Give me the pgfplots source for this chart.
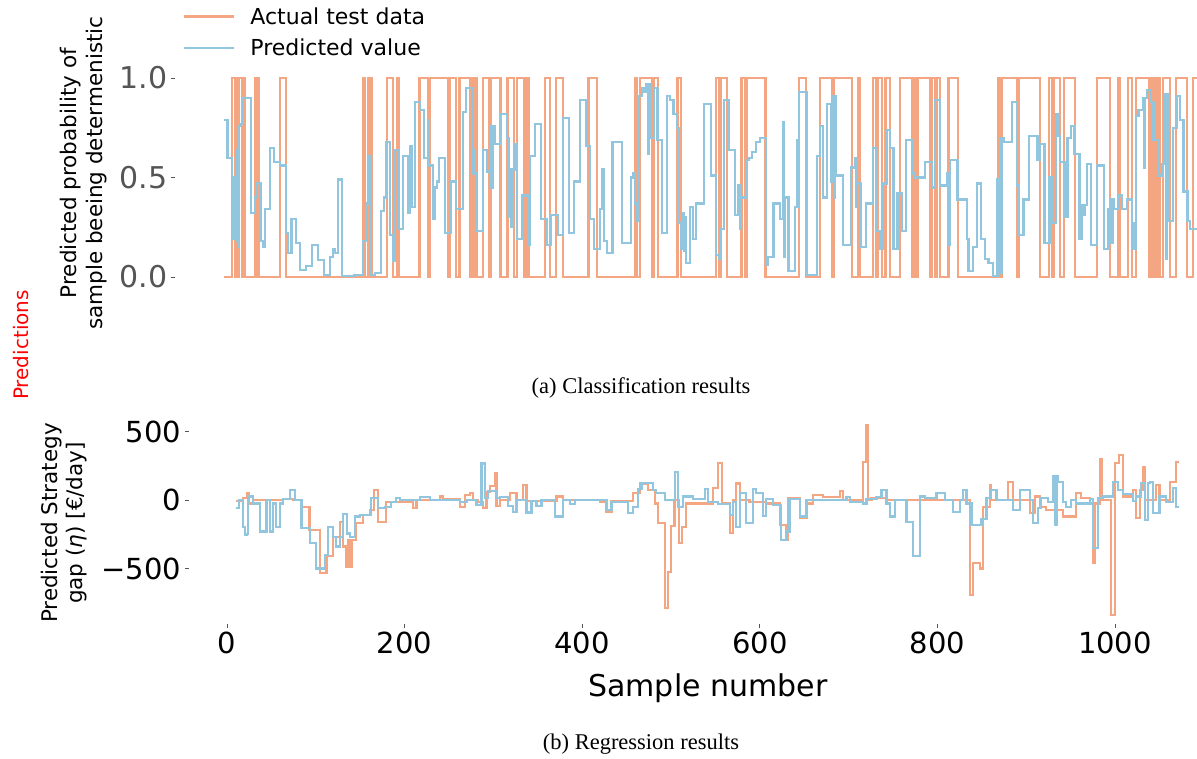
\documentclass[border=0pt]{standalone}
\usepackage{fontspec}
\setmainfont{DejaVu Sans}
\newfontfamily\capfont{Liberation Serif}
\usepackage{pgfplots}
\pgfplotsset{compat=1.18}
\definecolor{actual}{HTML}{F4A582}
\definecolor{pred}{HTML}{92C5DE}
\definecolor{ticklab}{HTML}{555555}

\begin{document}
\begin{tikzpicture}
\useasboundingbox (0pt,0pt) rectangle (1197pt,759pt);
\clip (0pt,0pt) rectangle (1197pt,759pt);

% (a) classification
\begin{axis}[
  at={(175.1pt,472pt)}, anchor=south west, scale only axis,
  width=1069.5pt, height=218.9pt,
  xmin=-55, xmax=1148, ymin=-0.05, ymax=1.05,
  axis line style={draw=none},
  xtick=\empty,
  ytick={0,0.5,1}, yticklabels={0.0,0.5,1.0},
  ytick pos=left, tick align=outside, major tick length=4pt,
  tick style={ticklab, line width=0.8pt},
  yticklabel style={font=\fontsize{30}{36}\selectfont, text=ticklab},
  ylabel={Predicted probability of\\sample beeing determenistic},
  ylabel style={font=\fontsize{21.5}{26}\selectfont, align=center,
    at={(axis description cs:-0.0635,0.52)}, anchor=south, inner sep=0pt},
  legend style={draw=none, fill=none, font=\fontsize{22}{26}\selectfont,
    at={(axis description cs:0.0074,1)}, anchor=south west, yshift=9pt,
    inner sep=0pt, row sep=9pt,
    nodes={inner xsep=0pt, inner ysep=2pt},
    /tikz/every odd column/.append style={column sep=15pt}},
  legend cell align=left,
  legend image code/.code={\draw[#1, line width=2.2pt] (0pt,0pt) -- (50pt,0pt);},
]
\addplot[actual, line width=2.2pt, const plot] coordinates {
(0,0) (9,1) (12,0) (13,1) (15,0) (17,1) (20,0) (21,1) (23,0) (35,1) (36,0) (37,1) (39,0)
(63,1) (70,0) (156,1) (159,0) (162,1) (163,0) (164,1) (166,0) (183,1) (190,0) (195,1) (197,0)
(220,1) (230,0) (232,1) (252,0) (254,1) (261,0) (265,1) (277,0) (279,1) (281,0) (282,1) (284,0)
(291,1) (298,0) (300,1) (311,0) (319,1) (326,0) (330,1) (337,0) (340,1) (341,0) (342,1) (343,0)
(361,1) (367,0) (373,1) (381,0) (410,1) (420,0) (462,1) (465,0) (468,1) (481,0) (484,1) (488,0)
(510,1) (514,0) (553,1) (557,0) (559,1) (566,0) (582,1) (586,0) (588,1) (609,0) (647,1) (655,0)
(670,1) (684,0) (686,1) (706,0) (713,1) (715,0) (730,1) (734,0) (736,1) (740,0) (744,1) (749,0)
(760,1) (774,0) (775,1) (777,0) (780,1) (794,0) (796,1) (800,0) (802,1) (805,0) (815,1) (826,0)
(871,1) (872,0) (873,1) (874,0) (875,1) (892,0) (894,1) (918,0) (928,1) (931,0) (934,1) (940,0)
(945,1) (957,0) (982,1) (997,0) (1006,1) (1008,0) (1017,1) (1021,0) (1026,1) (1041,0) (1042,1)
(1043,0) (1044,1) (1045,0) (1046,1) (1047,0) (1050,1) (1053,0) (1056,1) (1064,0) (1071,1) (1083,0)
(1090,1) (1094,1)
};
\addlegendentry{Actual test data}
\addplot[pred, line width=2.2pt, const plot] coordinates {
(0,0.79) (4,0.60) (8.6,0.19) (11,0.50) (13.5,0.64) (14.5,0.18) (15.4,0.15) (17,0.76) (19,0.77)
(21.7,0.90) (30,0.32) (35,0.40) (37.5,0.47) (42,0.18) (44,0.15) (46.5,0.34) (51.7,0.65) (56.2,0.58)
(63,0.56) (69.7,0.22) (72.4,0.12) (76,0.29) (80.6,0.17) (85.5,0.035) (91.9,0.055) (99.4,0.16)
(105.4,0.085) (112.9,0.01) (119.2,0.10) (123,0.14) (124.9,0.12) (128.6,0.49) (133,0.007) (146,0.01)
(156,0.18) (160.5,0.37) (162.4,0.61) (165,0.01) (169.9,0.02) (176.2,0.33) (180,0.40) (182.2,0.68)
(186.7,0.21) (189.7,0.08) (192.4,0.64) (196.9,0.24) (201.4,0.61) (206.6,0.32) (209,0.66) (211.9,0.35)
(214.9,0.88) (220.5,0.84) (225,0.60) (229.9,0.79) (231,0.56) (235,0.29) (237.4,0.45) (240,0.48)
(242.2,0.60) (248.6,0.22) (255.4,0.48) (261,0.34) (269.2,0.83) (271.9,0.95) (278.6,0.52) (280,0.64)
(281.5,0.52) (284.2,0.23) (291,0.64) (296.2,0.53) (299,0.76) (300.5,0.45) (302,0.76) (304.9,0.67)
(311.2,0.82) (318,0.70) (320,0.30) (321.7,0.54) (323.5,0.25) (325,0.54) (327.4,0.67) (330,0.19)
(334.9,0.41) (342.4,0.16) (344.2,0.61) (349.9,0.77) (356.2,0.29) (363,0.16) (367.5,0.31) (376.1,0.21)
(381,0.80) (388.5,0.22) (393.7,0.48) (400.5,0.89) (407.2,0.66) (411.7,0.29) (416.2,0.14) (423,0.34)
(425,0.54) (427.5,0.18) (430.5,0.12) (437,0.68) (447.4,0.17) (457.5,0.50) (460.5,0.52) (462,0.37)
(463.5,0.28) (467.2,0.91) (470,0.95) (472.5,0.93) (475,0.97) (476.5,0.62) (477.5,0.97) (479,0.70)
(484,0.95) (487.5,0.69) (492.4,0.22) (498.7,0.91) (501.7,0.89) (505.5,0.82) (509.2,0.75) (512.2,0.27)
(514,0.14) (515.5,0.32) (517,0.13) (518.5,0.30) (519.7,0.07) (524.2,0.35) (527.2,0.19) (531,0.37)
(540,0.87) (547.9,0.51) (553.1,0.11) (556.9,0.09) (558,0.24) (562.5,0.89) (567.4,0.64) (574.9,0.31)
(578.6,0.46) (580,0.24) (581.2,0.40) (586.9,0.59) (589.9,0.60) (593.6,0.63) (598.5,0.68) (603,0.70)
(609.4,0.06) (611.6,0.10) (618,0.37) (625.5,0.29) (628.5,0.78) (630,0.10) (631.1,0.40) (634.9,0.03)
(642.4,0.35) (645,0.69) (647.2,0.93) (655.5,0.01) (666.7,0.61) (670.5,0.76) (674.2,0.40) (678,0.87)
(682.9,0.48) (685,0.91) (686.5,0.40) (687.5,0.91) (688.5,0.51) (696.7,0.16) (705,0.55) (709.9,0.60)
(711,0.35) (711.7,0.47) (716.2,0.15) (722.2,0.37) (729.7,0.65) (734.2,0.23) (738,0.14) (741.7,0.47)
(746.2,0.74) (749.2,0.65) (753,0.14) (757.5,0.42) (762.4,0.23) (766.9,0.69) (773.6,0.52) (777.4,0.50)
(788.6,0.58) (796.1,0.45) (799.9,0.89) (805.5,0.46) (813,0.52) (814.5,0.16) (816.7,0.59) (825,0.39)
(835.5,0.19) (837.4,0.03) (842.2,0.15) (846.7,0.47) (851.2,0.19) (856.1,0.09) (859.9,0.07) (864.7,0.005)
(870,0.49) (871,0.07) (872,0.49) (873,0.70) (874,0.02) (875,0.70) (876.7,0.68) (886,0.88) (891.7,0.46)
(894.4,0.21) (899.2,0.39) (905.6,0.71) (915,0.59) (918,0.67) (922.9,0.17) (928.5,0.50) (931.1,0.27)
(935.6,0.82) (938,0.71) (940.5,0.58) (946.1,0.30) (948.7,0.70) (952.5,0.76) (956.2,0.62) (962.2,0.19)
(964.9,0.36) (967,0.31) (968.5,0.36) (970.5,0.57) (975,0.16) (981.7,0.56) (990,0.14) (994.9,0.34)
(996.7,0.39) (998,0.17) (999.5,0.39) (1001.2,0.34) (1006.1,0.41) (1009.9,0.34) (1015.5,0.39)
(1021.1,0.27) (1023,0.14) (1026,0.81) (1028.6,0.84) (1033.5,0.90) (1034.5,0.55) (1035.5,0.90)
(1038,0.94) (1041.7,0.88) (1045.5,0.69) (1051.1,0.51) (1054.9,0.57) (1058.6,0.92) (1060,0.09)
(1061,0.92) (1062.4,0.28) (1067.2,0.75) (1071.7,0.91) (1075.5,0.79) (1079.2,0.43) (1083.7,0.28)
(1086.7,0.24) (1094,0.24)
};
\addlegendentry{Predicted value}
\end{axis}

% (b) regression
\begin{axis}[
  at={(188.8pt,134.5pt)}, anchor=south west, scale only axis,
  width=1038.1pt, height=208.9pt,
  xmin=-43, xmax=1126, ymin=-909, ymax=616,
  axis line style={draw=none},
  xtick={0,200,400,600,800,1000}, xticklabels={0,200,400,600,800,1000},
  ytick={-500,0,500}, yticklabels={−500,0,500},
  tick pos=left, tick align=outside, major tick length=4pt,
  tick style={ticklab, line width=0.8pt},
  ticklabel style={font=\fontsize{29}{35}\selectfont},
  xlabel={Sample number},
  xlabel style={font=\fontsize{30}{36}\selectfont,
    at={(axis description cs:0.5,-0.347)}, anchor=base, inner sep=0pt},
  ylabel={Predicted Strategy\\gap (\textit{η}) [€/day]},
  ylabel style={font=\fontsize{21.5}{25}\selectfont, align=center,
    at={(axis description cs:-0.0975,0.486)}, anchor=south, inner sep=0pt},
]
\addplot[actual, line width=2.2pt, const plot] coordinates {
(10,-5) (18,12) (23,50) (24.5,-25) (29.4,0) (63,5) (74.4,0) (83.8,-50) (93,-220) (104.4,-535)
(112,-410) (119.4,-270) (127,-160) (130.6,-340) (134.5,-490) (136.3,-290) (138,-490) (141,-290)
(145.6,-170) (153,-110) (160.6,-75) (166,73) (170,-160) (179.4,-12)
(209.8,-60) (213.5,0) (239.8,25) (243.5,5) (262.3,-50) (268,36) (273.5,50) (277.3,0) (282.9,-12)
(288.5,-60) (292.3,60) (296,100) (301.7,195) (303.5,-44) (307.3,0) (318.5,50) (326,0) (333.5,110)
(337.3,-5) (371,25) (378.5,0) (419.8,-12) (427.3,-85) (433,-5) (457.3,50) (464.8,120) (474,73)
(481.7,-25) (485.4,-170) (492.9,-790) (496.7,-523) (500.4,-190) (504,0) (509,-316) (512.8,-195)
(517.3,-25) (547.3,85) (553,272) (557.8,-25) (566,-243) (569.8,0) (573.5,120) (577.3,0) (588.5,-12)
(607.3,-25) (622.3,-180) (629.8,-290) (631.7,12)
(645.2,-134) (652.7,-25) (660.2,36) (671.5,20) (690.2,68) (694,0) (716.5,280) (719.5,547) (722.1,0)
(725.8,12) (742.7,0) (836.5,-693) (840.2,-462) (847.7,-500) (851.5,-50) (859,110) (860.8,0)
(879.6,134) (885.2,0) (904,-97) (909.6,25) (915.2,-50) (922.7,-73) (941.5,-120) (956.5,50) (962.1,12)
(971.5,-25) (975.2,-462) (977,-25) (982.7,297) (985.7,0) (995.8,-840) (999.6,268) (1004.4,328)
(1009,25) (1020.2,73) (1024,-134) (1027.7,73) (1031.5,243) (1033.4,0) (1046.5,110) (1050.2,0)
(1061.5,134) (1069,275) (1072,275)
};
\addplot[pred, line width=2.2pt, const plot] coordinates {
(10,-60) (13.6,0) (18.2,-195) (20,-255) (21.9,-250) (23.8,25) (29.4,-25) (36.9,-230) (44.4,0)
(48.1,-230) (51.9,-25) (55.6,-195) (59.4,-25) (63.1,5) (70.6,73) (76.3,0) (83.8,-205) (93.1,-315)
(100.6,-500) (110,-400) (113.8,-195) (119.4,-270) (123.1,-340) (126.9,-270) (130.6,-100) (135,-245)
(138.1,-270) (143.8,-120) (149.4,-110) (162.5,12) (170,-60) (177.5,-50) (185,-12) (190,12)
(194.8,0) (217.3,20) (228.5,0) (262.3,-12) (269.8,0) (281,-36) (286.7,267) (290.5,12) (294.2,68)
(303.5,12) (307.3,20) (316.7,-44) (322.3,-85) (326,0) (337.3,-92) (343,-5) (348.5,-44) (354.2,0)
(369.2,-120) (378.5,0) (386,-30) (391.7,0) (427.3,-73) (433,-12) (451.7,-97) (457.3,-50) (462.9,78)
(466.7,126) (479.8,73) (483.5,50) (492.9,0) (504.2,206) (507.9,-50) (513.5,25) (524.8,5) (537.9,78)
(541.7,-12) (552.9,-30) (566,-110) (569.8,-12) (573.5,-195) (577.3,50) (584.8,-170) (592.3,78)
(596,50) (603.5,-117) (607.3,5) (614.8,-36) (624.2,-290) (629.8,-230) (633.5,5)
(645.2,-120) (652.7,0) (697.7,20) (701.5,-12) (716.5,-25) (720.2,5) (731.5,20) (737.1,73)
(742.7,-25) (746.5,-120) (752.1,0) (765.2,-158) (772.7,-408) (780.2,25) (785.8,12) (799,50)
(808.3,0) (817.7,-85) (825.2,0) (829,73) (832.7,-25) (838.3,-182) (849.6,-141) (855.2,12) (859,73)
(866.5,0) (885.2,-73) (892.7,73) (904,0) (907.7,-170) (913.3,-60) (917,12) (924.6,-12) (930.2,175)
(932.1,-182) (934,175) (935.8,134) (941.5,-12) (945.2,-50) (950.8,0) (956.5,-25) (971.5,5)
(975.2,-353) (980.8,12) (986.5,25) (997.7,134) (1003.3,73) (1009,44) (1020.2,-5) (1024,25)
(1029.6,122) (1033.4,-146) (1037.1,122) (1039,134) (1042.7,-97) (1050.2,25) (1057.7,-12)
(1065.2,85) (1069,-50) (1072,-50)
};
\end{axis}

\node[font=\fontsize{20}{24}\selectfont, text=red, rotate=90] at (21pt,414pt) {Predictions};
\node[font=\capfont\fontsize{22.5}{27}\selectfont, anchor=base] at (641pt,365pt) {(a) Classification results};
\node[font=\capfont\fontsize{22.5}{27}\selectfont, anchor=base] at (641pt,9pt) {(b) Regression results};
\end{tikzpicture}
\end{document}
